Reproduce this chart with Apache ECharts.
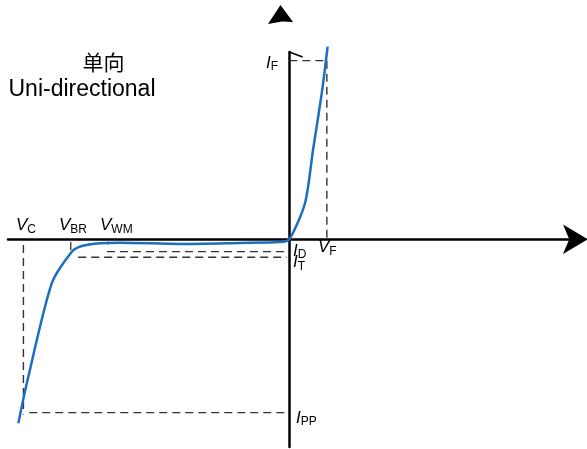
<!DOCTYPE html>
<html>
<head>
<meta charset="utf-8">
<script src="https://cdn.jsdelivr.net/npm/echarts@6/dist/echarts.min.js"></script>
<style>
  html, body { margin: 0; padding: 0; background: #fff; }
  #main { width: 587px; height: 449px; }
</style>
</head>
<body>
<div id="main"></div>
<script>
// I-V curve of a uni-directional TVS diode (arbitrary units)
const curveV = [-10.19, -9.87, -8.93, -8.18, -7.80, -7.12, -6.36, -4.11, -1.85, -0.35, 0, 0.59, 0.89, 1.22, 1.44];
const curveI = [-10.61, -8.29, -2.52, -0.715, -0.39, -0.23, -0.20, -0.27, -0.21, -0.16, 0, 2.09, 5.15, 8.44, 11.11];

// characteristic points
const V_C = -10, V_BR = -8.22, V_WM = -6.83, V_F = 1.41;
const I_PP = -10, I_F = 10.3, I_D = -0.715, I_T = -1.04;

// axis extents
const xRange = [-10.58, 10.76];
const yRange = [-11.98, 10.8];

const font = '"Liberation Sans", Arial, sans-serif';
const dash = { color: '#333', width: 1.4, type: [8, 5] };

function seg(name, pts, style) {
  return {
    name: name, type: 'line', data: pts, symbol: 'none', silent: true,
    clip: false, lineStyle: style, z: 1
  };
}

const chart = echarts.init(document.getElementById('main'), null, { renderer: 'canvas' });

function lbl(main, sub, x, y) {
  return {
    type: 'text', x: x, y: y,
    style: {
      text: '{m|' + main + '}{s|' + sub + '}',
      verticalAlign: 'middle',
      rich: {
        m: { fontFamily: font, fontStyle: 'italic', fontSize: 17, lineHeight: 20, fill: '#000' },
        s: { fontFamily: font, fontSize: 12, lineHeight: 12, verticalAlign: 'bottom', fill: '#000' }
      }
    }
  };
}

chart.setOption({
  animation: false,
  grid: { left: 8, right: 11.5, top: 52, bottom: 2 },
  xAxis: {
    type: 'value', min: xRange[0], max: xRange[1],
    axisLine: {
      show: true, onZero: true, symbol: ['none', 'arrow'], symbolSize: [22, 25], symbolOffset: [0, 12.5],
      lineStyle: { color: '#000', width: 2.5 }
    },
    axisTick: { show: false }, axisLabel: { show: false }, splitLine: { show: false }
  },
  yAxis: {
    type: 'value', min: yRange[0], max: yRange[1],
    axisLine: { show: true, onZero: true, lineStyle: { color: '#000', width: 2.5 } },
    axisTick: { show: false }, axisLabel: { show: false }, splitLine: { show: false }
  },
  series: [
    seg('VC', [[V_C, -0.33], [V_C, I_PP - 0.1]], dash),
    seg('IPP', [[V_C + 0.22, I_PP], [-0.16, I_PP]], dash),
    seg('ID', [[V_WM - 0.03, I_D], [-0.1, I_D]], dash),
    seg('IT', [[V_BR + 0.28, I_T], [-0.1, I_T]], dash),
    seg('VF', [[V_F, I_F], [V_F, 0]], dash),
    seg('IF', [[0, I_F], [V_F, I_F]], dash),
    seg('tickBR', [[V_BR, -0.16], [V_BR, -0.62]], { color: '#333', width: 1.3 }),
    seg('tickWM', [[V_WM, -0.14], [V_WM, -0.3]], { color: '#333', width: 1.3 }),
    seg('flag', [[0, 10.8], [0.5, 10.51]], { color: '#000', width: 1.5 }),
    {
      name: 'I-V', type: 'line', symbol: 'none', smooth: 0.25, clip: false, z: 3,
      data: curveV.map((v, i) => [v, curveI[i]]),
      lineStyle: { color: '#1c6ebf', width: 2.5 }
    }
  ],
  graphic: [
    {
      type: 'polygon',
      shape: { points: [[280.5, 5], [293, 22], [282, 21.5], [268, 24]] },
      style: { fill: '#000' }
    },
    {
      type: 'text', x: 103.5, y: 62,
      style: { text: '单向', fontFamily: '"Noto Sans CJK SC", sans-serif', fontSize: 21, fill: '#000', align: 'center', verticalAlign: 'middle' }
    },
    {
      type: 'text', x: 8.5, y: 90,
      style: { text: 'Uni-directional', fontFamily: font, fontSize: 23, fill: '#000', align: 'left', verticalAlign: 'middle' }
    },
    lbl('V', 'C', 16, 225.5),
    lbl('V', 'BR', 59, 225.5),
    lbl('V', 'WM', 100, 225.5),
    lbl('V', 'F', 318, 247.5),
    lbl('I', 'D', 293, 251),
    lbl('I', 'T', 293, 262.5),
    lbl('I', 'F', 266, 63),
    lbl('I', 'PP', 296, 418)
  ]
});
</script>
</body>
</html>
